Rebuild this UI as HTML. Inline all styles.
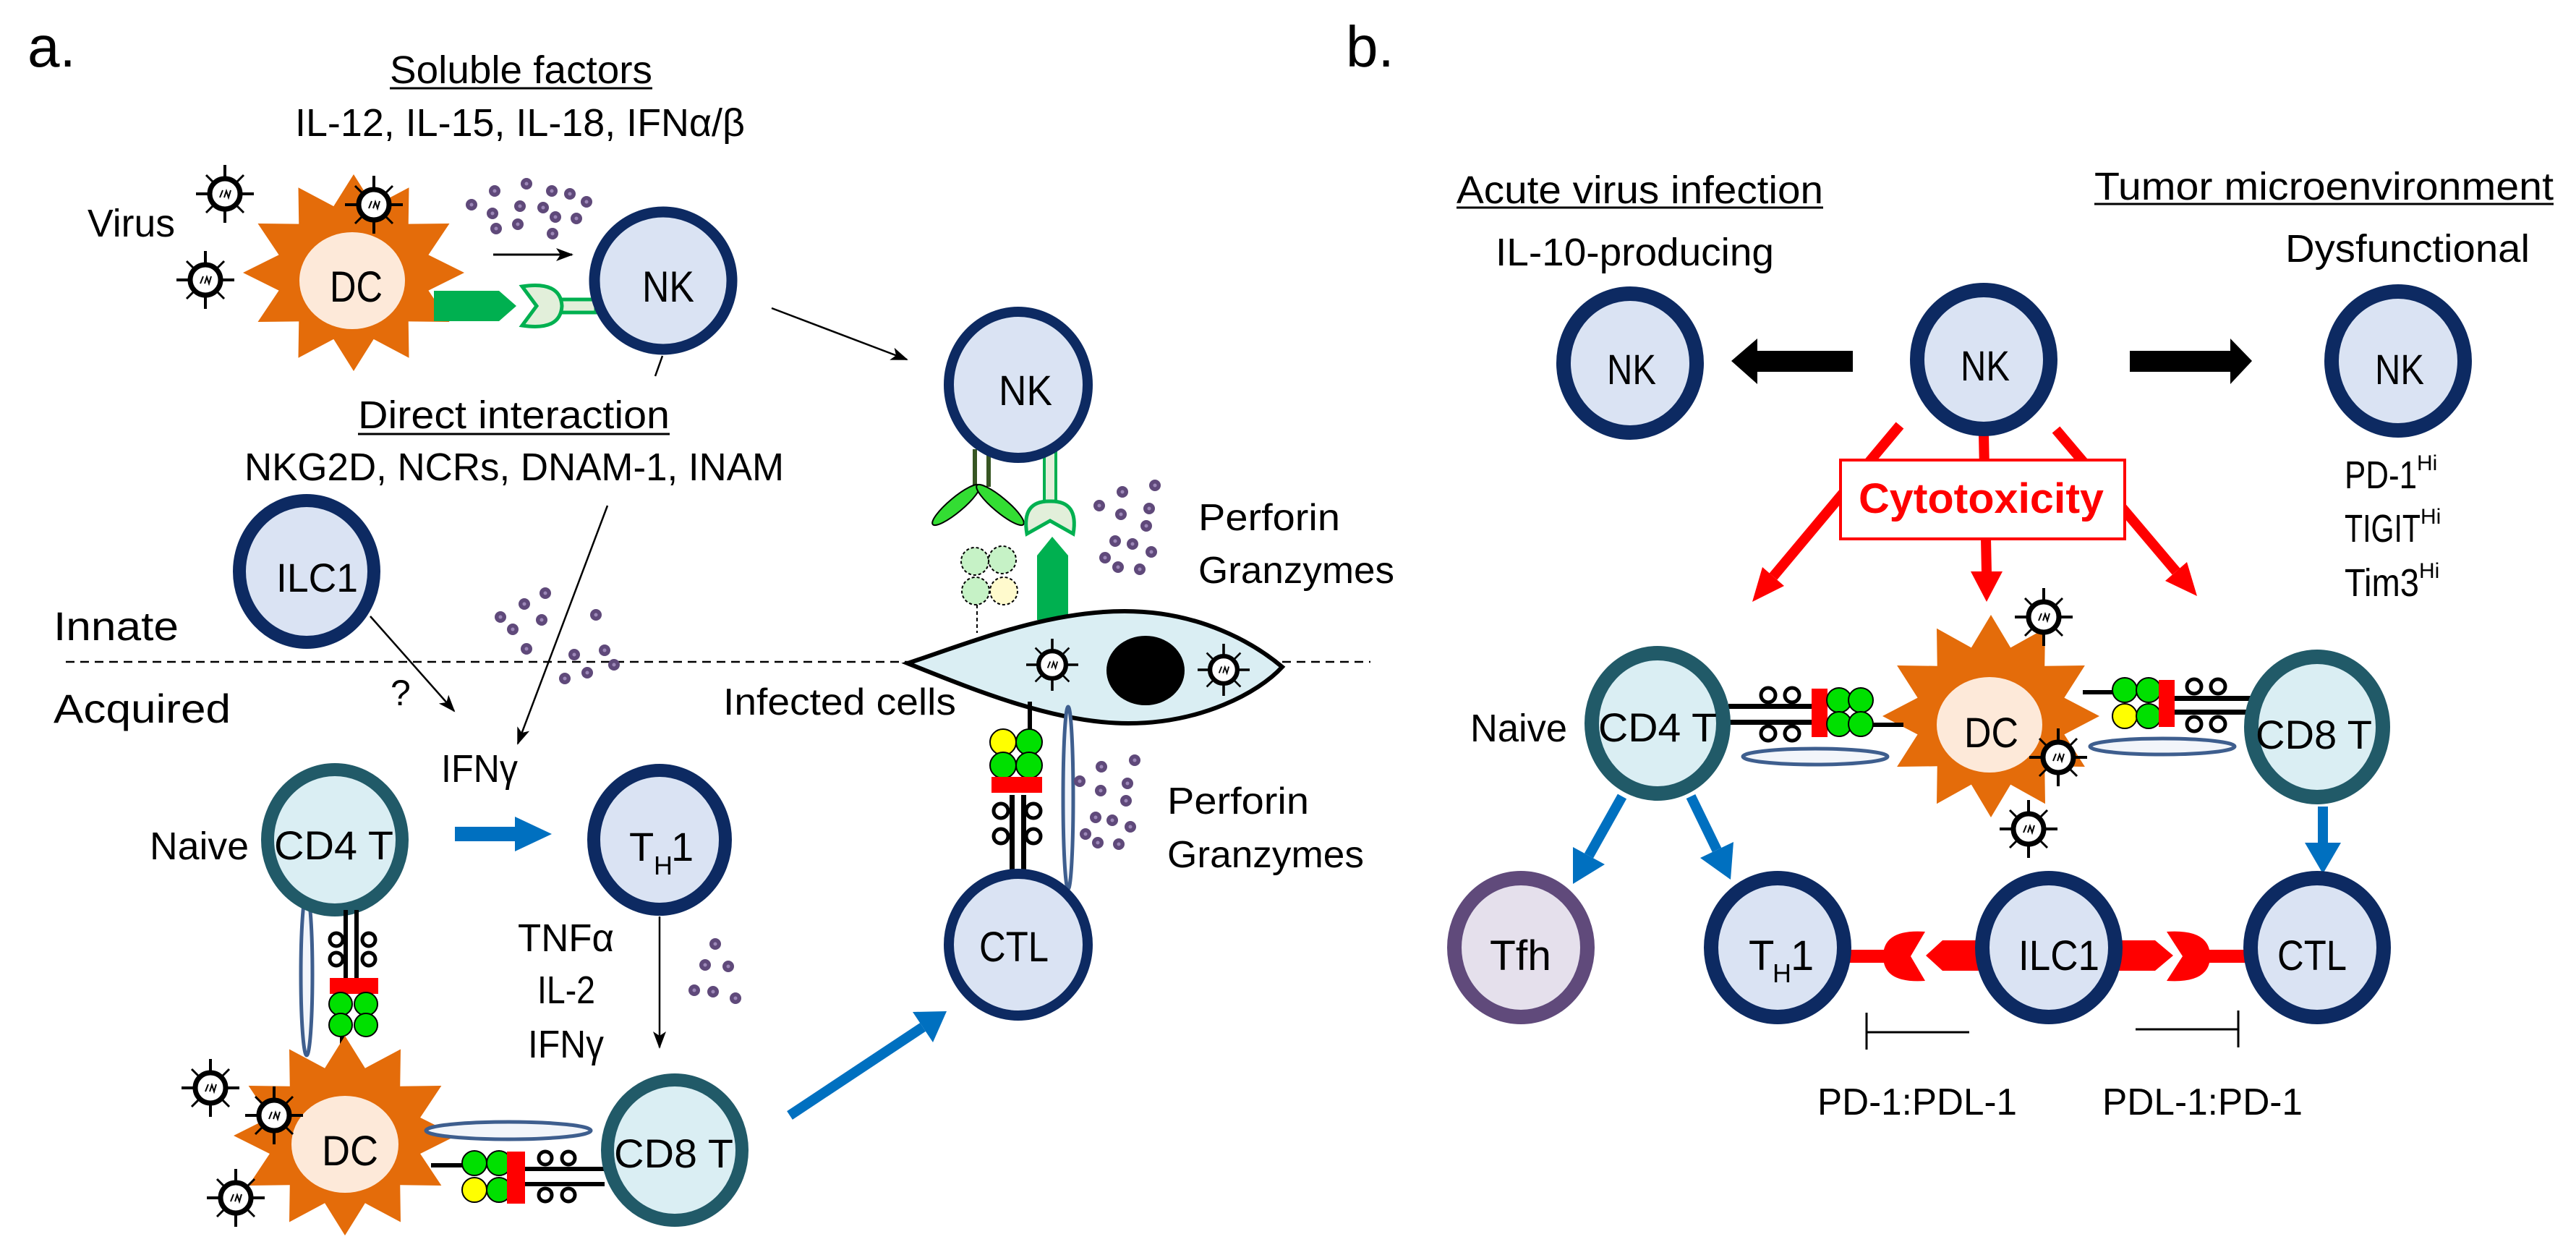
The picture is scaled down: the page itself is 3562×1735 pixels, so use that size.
<!DOCTYPE html>
<html><head><meta charset="utf-8"><style>
html,body{margin:0;padding:0;background:#fff;}
svg{display:block;}
text{font-family:"Liberation Sans",sans-serif;fill:#000;}
</style></head><body>
<svg width="3562" height="1735" viewBox="0 0 3562 1735" xmlns="http://www.w3.org/2000/svg">
<defs>
<polygon id="star" points="0,-100 18.1,-67.6 50,-86.6 49.5,-49.5 86.6,-50 67.6,-18.1 100,0 67.6,18.1 86.6,50 49.5,49.5 50,86.6 18.1,67.6 0,100 -18.1,67.6 -50,86.6 -49.5,49.5 -86.6,50 -67.6,18.1 -100,0 -67.6,-18.1 -86.6,-50 -49.5,-49.5 -50,-86.6 -18.1,-67.6"/>
<g id="virus">
<line x1="0" y1="-40" x2="0" y2="40" stroke="#000" stroke-width="4"/>
<line x1="-40" y1="0" x2="40" y2="0" stroke="#000" stroke-width="4"/>
<line x1="-26" y1="-26" x2="26" y2="26" stroke="#000" stroke-width="3"/>
<line x1="-26" y1="26" x2="26" y2="-26" stroke="#000" stroke-width="3"/>
<circle r="21" fill="#fff" stroke="#000" stroke-width="7"/>
<path d="M-7,5 L-3,-5 M-1,5 L2,-4 L5,5 L8,-5" stroke="#000" stroke-width="2" fill="none"/>
</g>
<g id="dot"><circle r="8" fill="#5F497A"/><circle r="2.5" fill="#9C87B8"/></g>
<marker id="ah" markerWidth="24" markerHeight="18" refX="22" refY="9" orient="auto" markerUnits="userSpaceOnUse"><path d="M0,0 L24,9 L0,18 L6,9 Z" fill="#000"/></marker>
</defs>

<!-- ============ PANEL A ============ -->
<text x="38" y="92" font-size="80">a.</text>
<text x="539" y="115" font-size="54" textLength="363" lengthAdjust="spacingAndGlyphs">Soluble factors</text>
<line x1="539" y1="122" x2="902" y2="122" stroke="#000" stroke-width="3"/>
<text x="408" y="188" font-size="54" textLength="622" lengthAdjust="spacingAndGlyphs">IL-12, IL-15, IL-18, IFNα/β</text>
<text x="121" y="327" font-size="54" textLength="121" lengthAdjust="spacingAndGlyphs">Virus</text>

<!-- dashed line -->
<line x1="91" y1="915" x2="1255" y2="915" stroke="#000" stroke-width="2.5" stroke-dasharray="12 8"/>
<line x1="1773" y1="915" x2="1895" y2="915" stroke="#000" stroke-width="2.5" stroke-dasharray="12 8"/>

<!-- DC top -->
<use href="#star" transform="translate(489,377) scale(1.53,1.36)" fill="#E46C0A"/>
<ellipse cx="487" cy="388" rx="73" ry="67" fill="#FDE9D9"/>
<text x="456" y="417" font-size="60" textLength="73" lengthAdjust="spacingAndGlyphs">DC</text>
<polygon points="600,402 690,402 714,423 690,444 600,444" fill="#00B050"/>
<rect x="762" y="414" width="62" height="18" fill="#E2EFDA" stroke="#00B050" stroke-width="5"/>
<path d="M722,396 Q775,388 777,423 Q775,458 722,450 L742,423 Z" fill="#E2EFDA" stroke="#00B050" stroke-width="5"/>
<use href="#virus" x="311" y="268"/>
<use href="#virus" x="517" y="283"/>
<use href="#virus" x="284" y="387"/>
<line x1="682" y1="352" x2="791" y2="352" stroke="#000" stroke-width="3" marker-end="url(#ah)"/>
<!-- NK1 -->
<ellipse cx="917" cy="388" rx="95" ry="95" fill="#DAE3F3" stroke="#0D2A62" stroke-width="15"/>
<text x="888" y="417" font-size="60" textLength="72" lengthAdjust="spacingAndGlyphs">NK</text>
<line x1="916" y1="492" x2="906" y2="520" stroke="#000" stroke-width="2.5"/>
<line x1="1067" y1="426" x2="1254" y2="497" stroke="#000" stroke-width="2.5" marker-end="url(#ah)"/>

<g>
<use href="#dot" x="652" y="283"/><use href="#dot" x="684" y="264"/><use href="#dot" x="728" y="254"/><use href="#dot" x="763" y="264"/><use href="#dot" x="788" y="268"/><use href="#dot" x="811" y="279"/><use href="#dot" x="681" y="295"/><use href="#dot" x="719" y="285"/><use href="#dot" x="751" y="287"/><use href="#dot" x="768" y="300"/><use href="#dot" x="797" y="302"/><use href="#dot" x="686" y="316"/><use href="#dot" x="716" y="310"/><use href="#dot" x="764" y="323"/>
</g>

<text x="495" y="592" font-size="54" textLength="431" lengthAdjust="spacingAndGlyphs">Direct interaction</text>
<line x1="495" y1="600" x2="926" y2="600" stroke="#000" stroke-width="3"/>
<text x="338" y="664" font-size="54" textLength="746" lengthAdjust="spacingAndGlyphs">NKG2D, NCRs, DNAM-1, INAM</text>

<!-- ILC1 -->
<ellipse cx="424" cy="790" rx="93" ry="98" fill="#DAE3F3" stroke="#0D2A62" stroke-width="18"/>
<text x="382" y="818" font-size="56" textLength="113" lengthAdjust="spacingAndGlyphs">ILC1</text>
<text x="74" y="885" font-size="56" textLength="173" lengthAdjust="spacingAndGlyphs">Innate</text>
<text x="74" y="999" font-size="56" textLength="245" lengthAdjust="spacingAndGlyphs">Acquired</text>
<text x="540" y="975" font-size="50">?</text>
<line x1="512" y1="852" x2="628" y2="983" stroke="#000" stroke-width="2.5" marker-end="url(#ah)"/>
<line x1="840" y1="699" x2="716" y2="1028" stroke="#000" stroke-width="2.5" marker-end="url(#ah)"/>
<g>
<use href="#dot" x="754" y="820"/><use href="#dot" x="725" y="835"/><use href="#dot" x="692" y="853"/><use href="#dot" x="749" y="857"/><use href="#dot" x="824" y="850"/><use href="#dot" x="709" y="870"/><use href="#dot" x="728" y="897"/><use href="#dot" x="794" y="905"/><use href="#dot" x="836" y="899"/><use href="#dot" x="849" y="919"/><use href="#dot" x="812" y="930"/><use href="#dot" x="781" y="938"/>
</g>
<text x="610" y="1081" font-size="54" textLength="106" lengthAdjust="spacingAndGlyphs">IFNγ</text>

<!-- CD4 T -->
<ellipse cx="424" cy="1347" rx="8" ry="112" fill="#F2F5FA" stroke="#3E5E8E" stroke-width="5"/>
<ellipse cx="463" cy="1161" rx="93" ry="97" fill="#DAEEF3" stroke="#215A68" stroke-width="18"/>
<text x="207" y="1188" font-size="54" textLength="137" lengthAdjust="spacingAndGlyphs">Naive</text>
<text x="379" y="1188" font-size="56" textLength="165" lengthAdjust="spacingAndGlyphs">CD4 T</text>
<!-- vertical complex CD4-DC -->
<rect x="475" y="1258" width="6" height="94" fill="#000"/><rect x="490" y="1258" width="6" height="94" fill="#000"/>
<circle cx="465" cy="1299" r="9" fill="#fff" stroke="#000" stroke-width="5"/><circle cx="465" cy="1326" r="9" fill="#fff" stroke="#000" stroke-width="5"/>
<circle cx="510" cy="1299" r="9" fill="#fff" stroke="#000" stroke-width="5"/><circle cx="510" cy="1326" r="9" fill="#fff" stroke="#000" stroke-width="5"/>
<rect x="456" y="1352" width="67" height="22" fill="#FF0000"/>
<line x1="473" y1="1420" x2="473" y2="1462" stroke="#000" stroke-width="6"/>
<circle cx="471" cy="1388" r="16" fill="#00E000" stroke="#000" stroke-width="2"/><circle cx="506" cy="1388" r="16" fill="#00E000" stroke="#000" stroke-width="2"/>
<circle cx="471" cy="1417" r="16" fill="#00E000" stroke="#000" stroke-width="2"/><circle cx="506" cy="1417" r="16" fill="#00E000" stroke="#000" stroke-width="2"/>

<!-- CD4 -> TH1 arrow -->
<polygon points="629,1143 712,1143 712,1129 763,1153 712,1177 712,1163 629,1163" fill="#0070C0"/>
<!-- TH1 -->
<ellipse cx="912" cy="1161" rx="91" ry="96" fill="#DAE3F3" stroke="#0D2A62" stroke-width="18"/>
<text x="870" y="1190" font-size="56">T</text><text x="904" y="1209" font-size="36">H</text><text x="928" y="1190" font-size="56">1</text>
<line x1="912" y1="1267" x2="912" y2="1448" stroke="#000" stroke-width="2.5" marker-end="url(#ah)"/>
<text x="716" y="1315" font-size="54" textLength="133" lengthAdjust="spacingAndGlyphs">TNFα</text>
<text x="743" y="1387" font-size="54" textLength="80" lengthAdjust="spacingAndGlyphs">IL-2</text>
<text x="730" y="1462" font-size="54" textLength="105" lengthAdjust="spacingAndGlyphs">IFNγ</text>
<g><use href="#dot" x="989" y="1305"/><use href="#dot" x="975" y="1334"/><use href="#dot" x="1007" y="1336"/><use href="#dot" x="960" y="1369"/><use href="#dot" x="986" y="1371"/><use href="#dot" x="1017" y="1380"/></g>

<!-- DC bottom -->
<use href="#star" transform="translate(477,1570) scale(1.54,1.38)" fill="#E46C0A"/>
<ellipse cx="477" cy="1582" rx="74" ry="67" fill="#FDE9D9"/>
<text x="445" y="1611" font-size="58" textLength="78" lengthAdjust="spacingAndGlyphs">DC</text>
<use href="#virus" x="291" y="1504"/>
<use href="#virus" x="379" y="1542"/>
<use href="#virus" x="326" y="1656"/>
<!-- horizontal complex DC-CD8 -->
<ellipse cx="703" cy="1563" rx="114" ry="12" fill="#F2F5FA" stroke="#3E5E8E" stroke-width="5"/>
<line x1="596" y1="1611" x2="642" y2="1611" stroke="#000" stroke-width="6"/>
<circle cx="656" cy="1608" r="17" fill="#00E000" stroke="#000" stroke-width="2"/><circle cx="690" cy="1608" r="17" fill="#00E000" stroke="#000" stroke-width="2"/>
<circle cx="656" cy="1645" r="17" fill="#FFFF00" stroke="#000" stroke-width="2"/><circle cx="690" cy="1645" r="17" fill="#00E000" stroke="#000" stroke-width="2"/>
<rect x="701" y="1592" width="25" height="72" fill="#FF0000"/>
<rect x="726" y="1613" width="110" height="6" fill="#000"/><rect x="726" y="1634" width="110" height="6" fill="#000"/>
<circle cx="754" cy="1601" r="9" fill="#fff" stroke="#000" stroke-width="5"/><circle cx="786" cy="1601" r="9" fill="#fff" stroke="#000" stroke-width="5"/>
<circle cx="754" cy="1652" r="9" fill="#fff" stroke="#000" stroke-width="5"/><circle cx="786" cy="1652" r="9" fill="#fff" stroke="#000" stroke-width="5"/>
<!-- CD8 T -->
<ellipse cx="933" cy="1590" rx="93" ry="97" fill="#DAEEF3" stroke="#215A68" stroke-width="18"/>
<text x="849" y="1614" font-size="56" textLength="165" lengthAdjust="spacingAndGlyphs">CD8 T</text>
<!-- CD8 -> CTL -->
<line x1="1092" y1="1542" x2="1276" y2="1420" stroke="#0070C0" stroke-width="14"/>
<polygon points="1309,1398 1290,1441 1262,1399" fill="#0070C0"/>

<!-- NK2 -->
<rect x="1345" y="621" width="6" height="52" fill="#375623"/><rect x="1364" y="621" width="6" height="52" fill="#375623"/>
<ellipse cx="1322" cy="698" rx="42" ry="10" transform="rotate(-40 1322 698)" fill="#33DD33" stroke="#000" stroke-width="2"/>
<ellipse cx="1383" cy="698" rx="42" ry="10" transform="rotate(40 1383 698)" fill="#33DD33" stroke="#000" stroke-width="2"/>
<rect x="1444" y="625" width="16" height="70" fill="#E2EFDA" stroke="#00B050" stroke-width="4"/>
<path d="M1420,738 Q1412,692 1452,693 Q1492,692 1484,738 L1452,720 Z" fill="#E2EFDA" stroke="#00B050" stroke-width="5"/>
<ellipse cx="1408" cy="532" rx="96" ry="101" fill="#DAE3F3" stroke="#0D2A62" stroke-width="14"/>
<text x="1381" y="560" font-size="58" textLength="74" lengthAdjust="spacingAndGlyphs">NK</text>
<polygon points="1434,857 1434,768 1455,742 1477,768 1477,857" fill="#00B050"/>
<line x1="1351" y1="836" x2="1351" y2="875" stroke="#000" stroke-width="2" stroke-dasharray="5 4"/>
<circle cx="1348" cy="776" r="19" fill="#C6F2C6" stroke="#000" stroke-width="2" stroke-dasharray="4 3"/>
<circle cx="1386" cy="774" r="19" fill="#C6F2C6" stroke="#000" stroke-width="2" stroke-dasharray="4 3"/>
<circle cx="1349" cy="817" r="19" fill="#C6F2C6" stroke="#000" stroke-width="2" stroke-dasharray="4 3"/>
<circle cx="1388" cy="817" r="19" fill="#FFFACD" stroke="#000" stroke-width="2" stroke-dasharray="4 3"/>
<g><use href="#dot" x="1520" y="699"/><use href="#dot" x="1552" y="680"/><use href="#dot" x="1597" y="671"/><use href="#dot" x="1550" y="711"/><use href="#dot" x="1589" y="703"/><use href="#dot" x="1585" y="727"/><use href="#dot" x="1542" y="748"/><use href="#dot" x="1566" y="752"/><use href="#dot" x="1592" y="763"/><use href="#dot" x="1528" y="771"/><use href="#dot" x="1546" y="784"/><use href="#dot" x="1576" y="787"/></g>
<text x="1657" y="733" font-size="52" textLength="196" lengthAdjust="spacingAndGlyphs">Perforin</text>
<text x="1657" y="806" font-size="52" textLength="271" lengthAdjust="spacingAndGlyphs">Granzymes</text>

<!-- infected cell -->
<path d="M1255,917 C1350,885 1450,845 1555,845 C1660,845 1735,890 1773,922 C1740,958 1660,1000 1560,1000 C1460,1000 1350,955 1255,917 Z" fill="#DAEEF3" stroke="#000" stroke-width="6"/>
<ellipse cx="1584" cy="927" rx="54" ry="48" fill="#000"/>
<use href="#virus" transform="translate(1455,919) scale(0.9)"/>
<use href="#virus" transform="translate(1692,926) scale(0.9)"/>
<text x="1000" y="988" font-size="52" textLength="322" lengthAdjust="spacingAndGlyphs">Infected cells</text>

<!-- complex infected cell - CTL -->
<ellipse cx="1477" cy="1103" rx="7" ry="126" fill="#F2F5FA" stroke="#3E5E8E" stroke-width="5"/>
<line x1="1424" y1="970" x2="1424" y2="1012" stroke="#000" stroke-width="6"/>
<circle cx="1387" cy="1026" r="18" fill="#FFFF00" stroke="#000" stroke-width="2"/><circle cx="1423" cy="1026" r="18" fill="#00E000" stroke="#000" stroke-width="2"/>
<circle cx="1387" cy="1058" r="18" fill="#00E000" stroke="#000" stroke-width="2"/><circle cx="1423" cy="1058" r="18" fill="#00E000" stroke="#000" stroke-width="2"/>
<rect x="1371" y="1074" width="70" height="22" fill="#FF0000"/>
<rect x="1396" y="1099" width="7" height="104" fill="#000"/><rect x="1412" y="1099" width="7" height="104" fill="#000"/>
<circle cx="1384" cy="1121" r="10" fill="#fff" stroke="#000" stroke-width="5"/><circle cx="1384" cy="1156" r="10" fill="#fff" stroke="#000" stroke-width="5"/>
<circle cx="1429" cy="1121" r="10" fill="#fff" stroke="#000" stroke-width="5"/><circle cx="1429" cy="1156" r="10" fill="#fff" stroke="#000" stroke-width="5"/>
<g><use href="#dot" x="1493" y="1080"/><use href="#dot" x="1523" y="1060"/><use href="#dot" x="1569" y="1051"/><use href="#dot" x="1522" y="1093"/><use href="#dot" x="1559" y="1083"/><use href="#dot" x="1557" y="1107"/><use href="#dot" x="1515" y="1130"/><use href="#dot" x="1538" y="1134"/><use href="#dot" x="1563" y="1143"/><use href="#dot" x="1501" y="1153"/><use href="#dot" x="1518" y="1165"/><use href="#dot" x="1547" y="1167"/></g>
<text x="1614" y="1125" font-size="52" textLength="196" lengthAdjust="spacingAndGlyphs">Perforin</text>
<text x="1614" y="1199" font-size="52" textLength="272" lengthAdjust="spacingAndGlyphs">Granzymes</text>
<!-- CTL -->
<ellipse cx="1408" cy="1306" rx="96" ry="98" fill="#DAE3F3" stroke="#0D2A62" stroke-width="14"/>
<text x="1354" y="1329" font-size="58" textLength="96" lengthAdjust="spacingAndGlyphs">CTL</text>

<!-- ============ PANEL B ============ -->
<text x="1861" y="92" font-size="80">b.</text>
<text x="2014" y="281" font-size="54" textLength="507" lengthAdjust="spacingAndGlyphs">Acute virus infection</text>
<line x1="2014" y1="287" x2="2521" y2="287" stroke="#000" stroke-width="3"/>
<text x="2896" y="276" font-size="54" textLength="635" lengthAdjust="spacingAndGlyphs">Tumor microenvironment</text>
<line x1="2896" y1="282" x2="3531" y2="282" stroke="#000" stroke-width="3"/>
<text x="2068" y="367" font-size="54" textLength="385" lengthAdjust="spacingAndGlyphs">IL-10-producing</text>
<text x="3160" y="362" font-size="54" textLength="338" lengthAdjust="spacingAndGlyphs">Dysfunctional</text>

<!-- red arrows -->
<line x1="2627" y1="588" x2="2452" y2="797" stroke="#FF0000" stroke-width="14"/>
<polygon points="2423,832 2467,810 2437,784" fill="#FF0000"/>
<line x1="2743" y1="600" x2="2747" y2="792" stroke="#FF0000" stroke-width="14"/>
<polygon points="2747,832 2725,790 2769,790" fill="#FF0000"/>
<line x1="2843" y1="594" x2="3009" y2="790" stroke="#FF0000" stroke-width="14"/>
<polygon points="3038,824 3024,777 2994,803" fill="#FF0000"/>
<rect x="2545" y="636" width="393" height="109" fill="#fff" stroke="#FF0000" stroke-width="4"/>
<text x="2570" y="709" font-size="58" font-weight="bold" fill="#FF0000" style="fill:#FF0000" textLength="339" lengthAdjust="spacingAndGlyphs">Cytotoxicity</text>

<!-- NK cells b -->
<ellipse cx="2254" cy="502" rx="92" ry="96" fill="#DAE3F3" stroke="#0D2A62" stroke-width="20"/>
<text x="2222" y="531" font-size="58" textLength="68" lengthAdjust="spacingAndGlyphs">NK</text>
<ellipse cx="2743" cy="497" rx="92" ry="96" fill="#DAE3F3" stroke="#0D2A62" stroke-width="20"/>
<text x="2711" y="526" font-size="58" textLength="68" lengthAdjust="spacingAndGlyphs">NK</text>
<ellipse cx="3316" cy="499" rx="92" ry="96" fill="#DAE3F3" stroke="#0D2A62" stroke-width="20"/>
<text x="3284" y="531" font-size="58" textLength="68" lengthAdjust="spacingAndGlyphs">NK</text>
<polygon points="2562,485 2430,485 2430,468 2394,499 2430,531 2430,514 2562,514" fill="#000"/>
<polygon points="2945,485 3084,485 3084,468 3114,499 3084,531 3084,514 2945,514" fill="#000"/>
<text x="3242" y="675" font-size="54" textLength="100" lengthAdjust="spacingAndGlyphs">PD-1</text><text x="3342" y="650" font-size="30">Hi</text>
<text x="3242" y="749" font-size="54" textLength="105" lengthAdjust="spacingAndGlyphs">TIGIT</text><text x="3347" y="724" font-size="30">Hi</text>
<text x="3242" y="824" font-size="54" textLength="103" lengthAdjust="spacingAndGlyphs">Tim3</text><text x="3345" y="799" font-size="30">Hi</text>

<!-- DC b -->
<use href="#star" transform="translate(2753,990) scale(1.5,1.4)" fill="#E46C0A"/>
<ellipse cx="2751" cy="1002" rx="73" ry="66" fill="#FDE9D9"/>
<text x="2716" y="1033" font-size="58" textLength="75" lengthAdjust="spacingAndGlyphs">DC</text>
<use href="#virus" x="2826" y="853"/>
<use href="#virus" x="2846" y="1047"/>
<use href="#virus" x="2805" y="1146"/>

<!-- left complex -->
<ellipse cx="2510" cy="1046" rx="100" ry="11" fill="#F2F5FA" stroke="#3E5E8E" stroke-width="5"/>
<rect x="2390" y="973" width="115" height="7" fill="#000"/><rect x="2390" y="995" width="115" height="7" fill="#000"/>
<circle cx="2445" cy="961" r="10" fill="#fff" stroke="#000" stroke-width="5"/><circle cx="2478" cy="961" r="10" fill="#fff" stroke="#000" stroke-width="5"/>
<circle cx="2445" cy="1014" r="10" fill="#fff" stroke="#000" stroke-width="5"/><circle cx="2478" cy="1014" r="10" fill="#fff" stroke="#000" stroke-width="5"/>
<rect x="2505" y="952" width="22" height="67" fill="#FF0000"/>
<line x1="2585" y1="1002" x2="2632" y2="1002" stroke="#000" stroke-width="6"/>
<circle cx="2543" cy="968" r="17" fill="#00E000" stroke="#000" stroke-width="2"/><circle cx="2573" cy="968" r="17" fill="#00E000" stroke="#000" stroke-width="2"/>
<circle cx="2543" cy="1001" r="17" fill="#00E000" stroke="#000" stroke-width="2"/><circle cx="2573" cy="1001" r="17" fill="#00E000" stroke="#000" stroke-width="2"/>
<!-- right complex -->
<ellipse cx="2990" cy="1032" rx="100" ry="11" fill="#F2F5FA" stroke="#3E5E8E" stroke-width="5"/>
<line x1="2880" y1="957" x2="2925" y2="957" stroke="#000" stroke-width="6"/>
<circle cx="2938" cy="954" r="17" fill="#00E000" stroke="#000" stroke-width="2"/><circle cx="2971" cy="954" r="17" fill="#00E000" stroke="#000" stroke-width="2"/>
<circle cx="2938" cy="990" r="17" fill="#FFFF00" stroke="#000" stroke-width="2"/><circle cx="2971" cy="990" r="17" fill="#00E000" stroke="#000" stroke-width="2"/>
<rect x="2985" y="940" width="22" height="65" fill="#FF0000"/>
<rect x="3007" y="962" width="110" height="7" fill="#000"/><rect x="3007" y="981" width="110" height="7" fill="#000"/>
<circle cx="3034" cy="949" r="10" fill="#fff" stroke="#000" stroke-width="5"/><circle cx="3067" cy="949" r="10" fill="#fff" stroke="#000" stroke-width="5"/>
<circle cx="3034" cy="1001" r="10" fill="#fff" stroke="#000" stroke-width="5"/><circle cx="3067" cy="1001" r="10" fill="#fff" stroke="#000" stroke-width="5"/>

<!-- CD4 / CD8 b -->
<ellipse cx="2292" cy="1000" rx="91" ry="97" fill="#DAEEF3" stroke="#215A68" stroke-width="20"/>
<text x="2033" y="1025" font-size="54" textLength="134" lengthAdjust="spacingAndGlyphs">Naive</text>
<text x="2210" y="1025" font-size="56" textLength="164" lengthAdjust="spacingAndGlyphs">CD4 T</text>
<ellipse cx="3204" cy="1005" rx="91" ry="97" fill="#DAEEF3" stroke="#215A68" stroke-width="20"/>
<text x="3119" y="1035" font-size="56" textLength="161" lengthAdjust="spacingAndGlyphs">CD8 T</text>

<!-- blue arrows b -->
<line x1="2243" y1="1101" x2="2197" y2="1183" stroke="#0070C0" stroke-width="14"/>
<polygon points="2175,1222 2219,1195 2175,1171" fill="#0070C0"/>
<line x1="2338" y1="1101" x2="2374" y2="1175" stroke="#0070C0" stroke-width="14"/>
<polygon points="2393,1216 2397,1164 2351,1186" fill="#0070C0"/>
<line x1="3212" y1="1115" x2="3212" y2="1168" stroke="#0070C0" stroke-width="14"/>
<polygon points="3212,1208 3187,1165 3237,1165" fill="#0070C0"/>

<!-- bottom row b -->
<ellipse cx="2103" cy="1310" rx="92" ry="96" fill="#E5E0EC" stroke="#604A7B" stroke-width="20"/>
<text x="2060" y="1341" font-size="58" textLength="85" lengthAdjust="spacingAndGlyphs">Tfh</text>
<line x1="2545" y1="1322" x2="2612" y2="1322" stroke="#FF0000" stroke-width="18"/>
<path d="M2662,1288 Q2604,1284 2604,1322 Q2604,1360 2662,1356 L2642,1322 Z" fill="#FF0000"/>
<polygon points="2663,1321 2686,1300 2740,1300 2740,1342 2686,1342" fill="#FF0000"/>
<polygon points="2925,1300 2980,1300 3005,1321 2980,1342 2925,1342" fill="#FF0000"/>
<path d="M2996,1288 Q3056,1284 3056,1322 Q3056,1360 2996,1356 L3018,1322 Z" fill="#FF0000"/>
<line x1="3050" y1="1322" x2="3115" y2="1322" stroke="#FF0000" stroke-width="18"/>
<ellipse cx="2458" cy="1310" rx="92" ry="96" fill="#DAE3F3" stroke="#0D2A62" stroke-width="20"/>
<text x="2418" y="1341" font-size="58">T</text><text x="2451" y="1358" font-size="36">H</text><text x="2476" y="1341" font-size="58">1</text>
<ellipse cx="2833" cy="1310" rx="92" ry="96" fill="#DAE3F3" stroke="#0D2A62" stroke-width="20"/>
<text x="2791" y="1341" font-size="58" textLength="112" lengthAdjust="spacingAndGlyphs">ILC1</text>
<ellipse cx="3204" cy="1310" rx="92" ry="96" fill="#DAE3F3" stroke="#0D2A62" stroke-width="20"/>
<text x="3149" y="1341" font-size="58" textLength="96" lengthAdjust="spacingAndGlyphs">CTL</text>

<!-- inhibition bars -->
<line x1="2581" y1="1400" x2="2581" y2="1451" stroke="#000" stroke-width="3"/>
<line x1="2581" y1="1427" x2="2723" y2="1427" stroke="#000" stroke-width="3"/>
<line x1="2953" y1="1423" x2="3095" y2="1423" stroke="#000" stroke-width="3"/>
<line x1="3095" y1="1397" x2="3095" y2="1448" stroke="#000" stroke-width="3"/>
<text x="2513" y="1541" font-size="52" textLength="276" lengthAdjust="spacingAndGlyphs">PD-1:PDL-1</text>
<text x="2907" y="1541" font-size="52" textLength="277" lengthAdjust="spacingAndGlyphs">PDL-1:PD-1</text>
</svg>
</body></html>
